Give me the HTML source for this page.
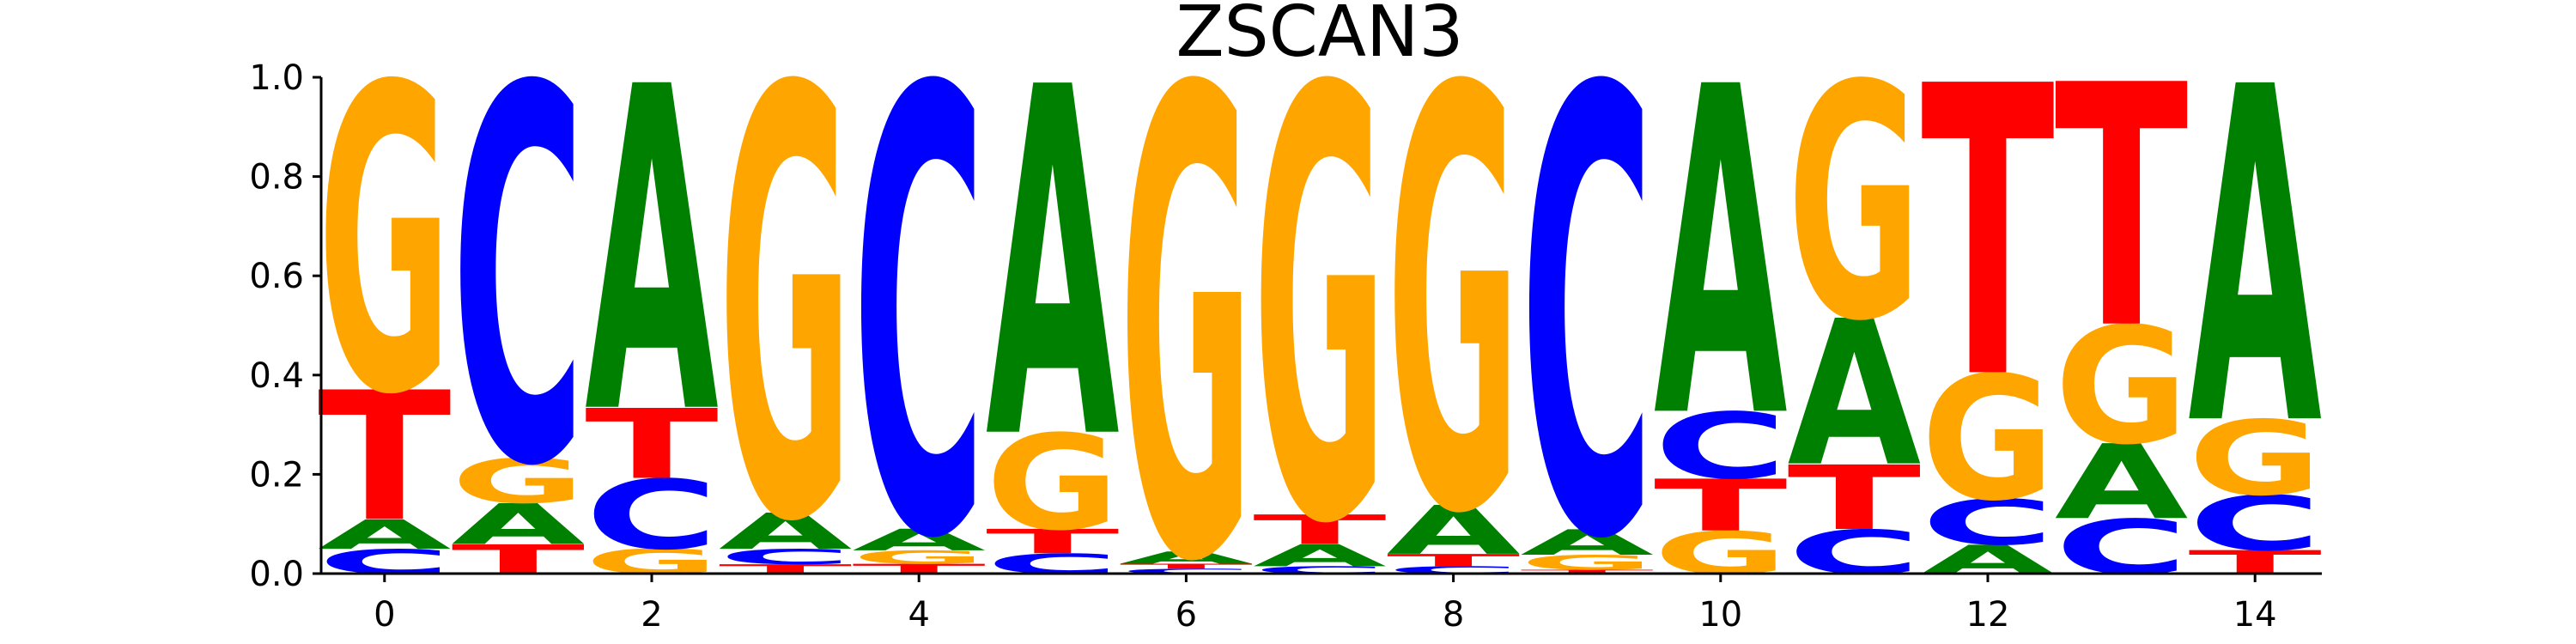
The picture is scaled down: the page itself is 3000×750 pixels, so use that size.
<!DOCTYPE html>
<html><head><meta charset="utf-8"><style>
html,body{margin:0;padding:0;background:#fff;width:3000px;height:750px;overflow:hidden;}
svg{display:block;font-family:"DejaVu Sans","Liberation Sans",sans-serif;}
</style></head><body>
<svg id="chart" width="3000" height="750" viewBox="0 0 3000 750" xmlns="http://www.w3.org/2000/svg">
<text x="1537" y="65" font-size="82" text-anchor="middle" fill="#000">ZSCAN3</text>
<g id="marks"></g>
<g id="axes"></g>
</svg>
<script>
const letters = ['A','C','G','T'];
const posA = [0.06,0.083,0.664,0.074,0.044,0.714,0.025,0.045,0.10,0.052,0.672,0.298,0.059,0.153,0.687];
const posC = [0.05,0.766,0.142,0.031,0.909,0.041,0.01,0.015,0.015,0.91,0.135,0.09,0.093,0.112,0.112];
const posG = [0.625,0.091,0.051,0.876,0.027,0.195,0.955,0.88,0.86,0.03,0.087,0.48,0.254,0.239,0.153];
const posT = [0.265,0.06,0.143,0.019,0.02,0.05,0.01,0.06,0.025,0.008,0.106,0.132,0.594,0.496,0.048];
const yTicks = [0,0.2,0.4,0.6,0.8,1.0];
const yTickLabels = ['0.0','0.2','0.4','0.6','0.8','1.0'];
const xTicks = [0,2,4,6,8,10,12,14];

const colors = {A:'#008000',C:'#0000ff',G:'#ffa500',T:'#ff0000'};
const L=370,R=2704,T0=90,B=668;
const xs = v => L + (v+0.5)/15*(R-L);
const ys = v => B - v*(B-T0);
const NS='http://www.w3.org/2000/svg';
const marks=document.getElementById('marks');
const axes=document.getElementById('axes');
const vals={A:posA,C:posC,G:posG,T:posT};
for(let i=0;i<posA.length;i++){
  const items=letters.map(l=>({l,v:vals[l][i]})).sort((a,b)=>a.v-b.v);
  let base=0;
  items.forEach(it=>{
    const y0=ys(base), y1=ys(base+it.v);
    const h=y0-y1;
    const w=xs(i+0.5)-xs(i-0.5);
    const t=document.createElementNS(NS,'text');
    
    
    t.textContent=it.l;
    t.setAttribute('font-size','100');
    t.setAttribute('font-weight','bold');
    t.setAttribute('x','0');t.setAttribute('y','0');
    t.setAttribute('textLength','100');
    t.setAttribute('lengthAdjust','spacingAndGlyphs');
    t.setAttribute('fill',colors[it.l]);
    t.setAttribute('transform',`translate(${xs(i-0.5)},${y0}) scale(${w/100},${h/74})`);
    marks.appendChild(t);
    base+=it.v;
  });
}
function line(x1,y1,x2,y2,name){
  const e=document.createElementNS(NS,'line');
  
  
  e.setAttribute('x1',x1);e.setAttribute('y1',y1);e.setAttribute('x2',x2);e.setAttribute('y2',y2);
  e.setAttribute('stroke','#000');e.setAttribute('stroke-width','3');
  axes.appendChild(e);
}
line(L+4,B,R,B,'x-axis-line');
line(L+4,T0,L+4,B+1.5,'y-axis-line');
yTicks.forEach((v,k)=>{
  line(L-6,ys(v),L+4,ys(v),'y-tick');
  const t=document.createElementNS(NS,'text');
  
  
  t.setAttribute('x',L-16);t.setAttribute('y',ys(v)+14);
  t.setAttribute('font-size','40');t.setAttribute('text-anchor','end');
  t.textContent=yTickLabels[k];
  axes.appendChild(t);
});
xTicks.forEach(v=>{
  line(xs(v),B,xs(v),B+10,'x-tick');
  const t=document.createElementNS(NS,'text');
  
  
  t.setAttribute('x',xs(v));t.setAttribute('y',729);
  t.setAttribute('font-size','40');t.setAttribute('text-anchor','middle');
  t.textContent=String(v);
  axes.appendChild(t);
});
</script>
</body></html>
